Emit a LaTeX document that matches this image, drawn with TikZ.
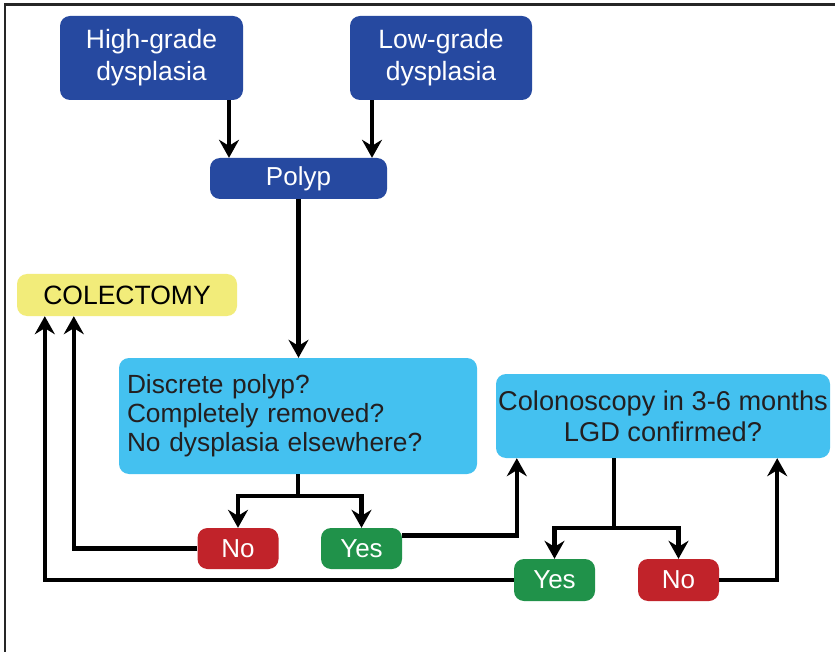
\documentclass[tikz,border=0pt]{standalone}
\usepackage{fontspec}
\setmainfont{Liberation Sans}
\usetikzlibrary{arrows.meta,calc}
\definecolor{dblue}{HTML}{2649A0}
\definecolor{lblue}{HTML}{44C1F0}
\definecolor{ylw}{HTML}{F2EC7A}
\definecolor{rd}{HTML}{C1232A}
\definecolor{gr}{HTML}{20924A}
\definecolor{txt}{HTML}{231F20}
\begin{document}
\begin{tikzpicture}[x=1pt,y=-1pt,
  box/.style={rounded corners=10pt,inner sep=0pt,align=center,font=\fontsize{26.5}{32}\selectfont},
  darkbox/.style={box,fill=dblue,text=white},
  lightbox/.style={box,fill=lblue,text=txt},
  nobox/.style={box,fill=rd,text=white,minimum width=81pt,minimum height=41pt,font=\fontsize{26}{31}\selectfont},
  yesbox/.style={box,fill=gr,text=white,minimum width=81pt,minimum height=41pt,font=\fontsize{26}{31}\selectfont},
  conn/.style={line width=4.3pt,line join=miter},
  arr/.style={conn,-{Stealth[length=18pt,width=20pt,inset=6pt]}}]
\useasboundingbox (0,0) rectangle (835,652);
\fill[white] (0,0) rectangle (835,652);
\draw[line width=2.2pt,black!85] (5,652) -- (5,4.5) -- (835,4.5);

\node[darkbox,minimum width=183pt,minimum height=84pt] (hg) at (151.5,58) {High-grade\\dysplasia};
\node[darkbox,minimum width=182pt,minimum height=84pt] (lg) at (441,58) {Low-grade\\dysplasia};
\node[darkbox,minimum width=177pt,minimum height=41pt,font=\fontsize{26}{31}\selectfont] (pol) at (298.5,178.5) {Polyp};
\node[box,fill=ylw,text=black,minimum width=220pt,minimum height=42pt] (col) at (127,295) {COLECTOMY};
\node[lightbox,minimum width=358pt,minimum height=116pt,text width=342pt,align=left,font=\fontsize{26.3}{29}\selectfont] (disc) at (298,416) {Discrete polyp?\\Completely removed?\\No dysplasia elsewhere?};
\node[lightbox,minimum width=334pt,minimum height=84pt,font=\fontsize{27.2}{31}\selectfont] (colon) at (663,416) {Colonoscopy in 3-6 months\\LGD confirmed?};
\node[nobox] (no1) at (238,548.5) {No};
\node[yesbox] (yes1) at (361.5,548.5) {Yes};
\node[yesbox,minimum height=42pt] (yes2) at (554.5,580) {Yes};
\node[nobox,minimum height=42pt] (no2) at (678.5,580) {No};

\draw[arr] ([xshift=77.5pt]hg.south) -- ([xshift=77.5pt]hg.south |- pol.north);
\draw[arr] ([xshift=-69pt]lg.south) -- ([xshift=-69pt]lg.south |- pol.north);
\draw[arr] (pol.south) -- (pol.south |- disc.north);

\coordinate (b1) at (298,496);
\draw[conn] (disc.south) -- (b1);
\draw[arr] (b1) -| (no1.north);
\draw[arr] (b1) -| (yes1.north);

\coordinate (b2) at (614,528);
\draw[conn] (colon.south -| b2) -- (b2);
\draw[arr] (b2) -| (yes2.north);
\draw[arr] (b2) -| (no2.north);

\draw[arr] (no1.west) -| ([xshift=57pt]col.south west);
\draw[arr] (yes2.west) -| ([xshift=28pt]col.south west);
\draw[arr] ([yshift=13pt]yes1.east) -| ([xshift=21pt]colon.south west);
\draw[arr] (no2.east) -| ([xshift=-53pt]colon.south east);
\end{tikzpicture}
\end{document}
